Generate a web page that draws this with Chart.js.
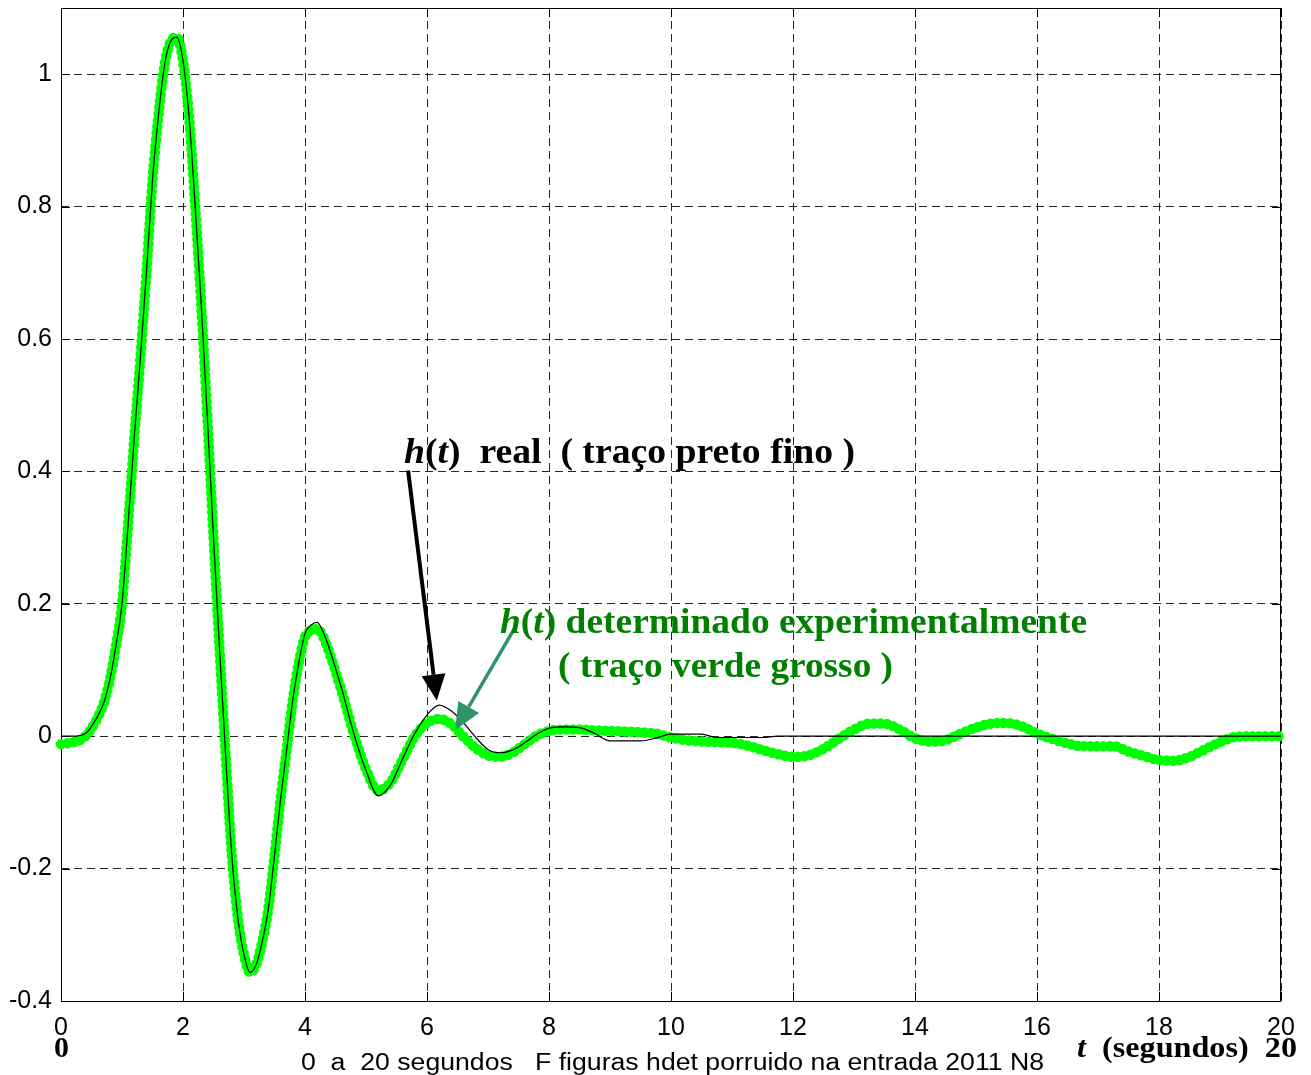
<!DOCTYPE html>
<html>
<head>
<meta charset="utf-8">
<script src="https://cdn.jsdelivr.net/npm/chart.js@4.4.1/dist/chart.umd.min.js"></script>
<style>
  html, body { margin: 0; padding: 0; background: #fff; }
  #wrap { width: 1311px; height: 1075px; }
</style>
</head>
<body>
<div id="wrap"><canvas id="hChart" width="1311" height="1075"></canvas></div>
<script>
// tempo em segundos (amostras)
const tempo = [
  0, 0.2, 0.4, 0.6,
  0.7, 0.8, 0.9, 1.0, 1.1, 1.2, 1.3, 1.4, 1.5, 1.6, 1.7, 1.8, 1.9, 2.0,
  2.1, 2.2, 2.3, 2.4, 2.5, 2.6, 2.7, 2.8, 2.9, 3.0, 3.1, 3.2, 3.3, 3.4, 3.5, 3.6, 3.7, 3.8, 3.9, 4.0,
  4.1, 4.2, 4.3, 4.4,
  4.6, 4.8, 5.0, 5.2, 5.4, 5.6, 5.8, 6.0, 6.2, 6.4, 6.6, 6.8, 7.0, 7.2, 7.4, 7.6, 7.8, 8.0,
  8.25, 8.5, 8.75, 9.0, 9.25, 9.5, 9.75, 10.0, 10.25, 10.5, 10.75, 11.0, 11.25, 11.5, 11.75,
  12.0, 12.25, 12.5, 12.75, 13.0, 13.25, 13.5, 13.75, 14.0, 14.25, 14.5, 14.75,
  15.0, 15.25, 15.5, 15.75, 16.0, 16.25, 16.5, 16.75, 17.0, 17.25, 17.5, 17.75,
  18.0, 18.25, 18.5, 18.75, 19.0, 19.25, 19.5, 19.75, 20.0
];

// h(t) real (traço preto fino)
const hReal = [
  0, 0, 0.004, 0.03,
  0.05, 0.085, 0.136, 0.20, 0.32, 0.45, 0.57, 0.70, 0.84, 0.94, 1.015, 1.05, 1.056, 1.02,
  0.935, 0.80, 0.65, 0.48, 0.30, 0.13, -0.03, -0.18, -0.275, -0.33, -0.357, -0.345, -0.31, -0.26, -0.18, -0.095, -0.02, 0.055, 0.112, 0.155,
  0.168, 0.172, 0.157, 0.132,
  0.072, 0.004, -0.052, -0.09, -0.074, -0.034, 0.004, 0.032, 0.047, 0.038, 0.02, -0.002, -0.02, -0.025, -0.021, -0.01, 0.003, 0.012,
  0.014, 0.013, 0.004, -0.007, -0.007, -0.007, -0.003, 0.003, 0.003, 0.003, -0.002, -0.002, -0.002, -0.002, 0,
  0, 0, 0, 0, 0, 0, 0, 0, 0, 0, 0, 0,
  0, 0, 0, 0, 0, 0, 0, 0, 0, 0, 0, 0,
  0, 0, 0, 0, 0, 0, 0, 0, 0
];

// h(t) determinado experimentalmente (traço verde grosso)
const hExp = [
  -0.012, -0.009, 0.0, 0.028,
  0.05, 0.085, 0.136, 0.20, 0.32, 0.45, 0.57, 0.70, 0.84, 0.94, 1.015, 1.05, 1.056, 1.02,
  0.935, 0.80, 0.65, 0.48, 0.30, 0.13, -0.03, -0.18, -0.275, -0.33, -0.357, -0.345, -0.31, -0.26, -0.18, -0.095, -0.02, 0.055, 0.112, 0.150,
  0.160, 0.162, 0.150, 0.126,
  0.068, 0.004, -0.05, -0.082, -0.07, -0.035, 0.0, 0.02, 0.026, 0.018, -0.001, -0.018, -0.029, -0.031, -0.025, -0.012, 0.001, 0.008,
  0.010, 0.010, 0.009, 0.008, 0.007, 0.006, 0.004, -0.002, -0.006, -0.008, -0.009, -0.010, -0.014, -0.021, -0.027,
  -0.031, -0.029, -0.019, -0.004, 0.010, 0.019, 0.019, 0.010, -0.003, -0.008, -0.006, 0.004,
  0.013, 0.019, 0.020, 0.015, 0.004, -0.004, -0.011, -0.015, -0.015, -0.015, -0.023, -0.030,
  -0.036, -0.037, -0.031, -0.020, -0.009, -0.001, 0, 0, 0
];

const xTicks = [0, 2, 4, 6, 8, 10, 12, 14, 16, 18, 20];
const yTicks = [-0.4, -0.2, 0, 0.2, 0.4, 0.6, 0.8, 1];

const SERIF = "'Liberation Serif', 'Times New Roman', serif";
const SANS = "'Liberation Sans', Arial, sans-serif";

// texto com partes em itálico, comprimido na horizontal até a largura pedida
function drawRich(ctx, pieces, x, y, size, width, color, family, bold) {
  const fontOf = p => `${p.i ? 'italic ' : ''}${bold ? 'bold ' : ''}${size}px ${family}`;
  let total = 0;
  pieces.forEach(p => { ctx.font = fontOf(p); total += ctx.measureText(p.t).width; });
  const sx = width ? width / total : 1;
  ctx.save();
  ctx.translate(x, y);
  ctx.scale(sx, 1);
  ctx.fillStyle = color;
  ctx.textBaseline = 'alphabetic';
  ctx.textAlign = 'left';
  let cx = 0;
  pieces.forEach(p => {
    ctx.font = fontOf(p);
    ctx.fillText(p.t, cx, 0);
    cx += ctx.measureText(p.t).width;
  });
  ctx.restore();
}

function drawArrow(ctx, x1, y1, x2, y2, color, lw, headLen, headW) {
  const ang = Math.atan2(y2 - y1, x2 - x1);
  const bx = x2 - headLen * Math.cos(ang), by = y2 - headLen * Math.sin(ang);
  ctx.save();
  ctx.strokeStyle = color; ctx.fillStyle = color; ctx.lineWidth = lw;
  ctx.beginPath(); ctx.moveTo(x1, y1); ctx.lineTo(bx, by); ctx.stroke();
  ctx.beginPath();
  ctx.moveTo(x2, y2);
  ctx.lineTo(bx + headW / 2 * Math.sin(ang), by - headW / 2 * Math.cos(ang));
  ctx.lineTo(bx - headW / 2 * Math.sin(ang), by + headW / 2 * Math.cos(ang));
  ctx.closePath(); ctx.fill();
  ctx.restore();
}

// moldura e marcas de escala para dentro (estilo MATLAB)
const frame = {
  id: 'frame',
  beforeDatasetsDraw(chart) {
    const { ctx, chartArea: a, scales: { x, y } } = chart;
    ctx.save();
    ctx.strokeStyle = '#000';
    ctx.lineWidth = 1;
    ctx.strokeRect(a.left + 0.5, a.top + 0.5, a.right - a.left - 1, a.bottom - a.top);
    ctx.beginPath();
    xTicks.forEach(v => {
      const px = Math.round(x.getPixelForValue(v)) + 0.5;
      ctx.moveTo(px, a.bottom); ctx.lineTo(px, a.bottom - 9);
      ctx.moveTo(px, a.top); ctx.lineTo(px, a.top + 9);
    });
    yTicks.forEach(v => {
      const py = Math.round(y.getPixelForValue(v)) + 0.5;
      ctx.moveTo(a.left, py); ctx.lineTo(a.left + 9, py);
      ctx.moveTo(a.right, py); ctx.lineTo(a.right - 9, py);
    });
    ctx.stroke();
    ctx.restore();
  }
};

const notes = {
  id: 'notes',
  afterDatasetsDraw(chart) {
    const { ctx, scales: { x, y } } = chart;
    const X = v => x.getPixelForValue(v), Y = v => y.getPixelForValue(v);

    drawArrow(ctx, X(5.69), Y(0.4015), X(6.16), Y(0.054), '#000', 4, 26, 24);
    drawArrow(ctx, X(7.43), Y(0.162), X(6.46), Y(0.009), '#2e9467', 3.5, 27, 24);

    drawRich(ctx, [{ t: 'h', i: true }, { t: '(' }, { t: 't', i: true }, { t: ')  real  ( traço preto fino )' }],
      X(5.623), Y(0.412), 36, X(13.016) - X(5.623), '#000', SERIF, true);
    drawRich(ctx, [{ t: 'h', i: true }, { t: '(' }, { t: 't', i: true }, { t: ') determinado experimentalmente' }],
      X(7.197), Y(0.1555), 35, X(16.82) - X(7.197), '#008000', SERIF, true);
    drawRich(ctx, [{ t: '( traço verde grosso )' }],
      X(8.148), Y(0.089), 35, X(13.64) - X(8.148), '#008000', SERIF, true);

    // textos abaixo do eixo
    drawRich(ctx, [{ t: '0' }], 54, 1057, 29, 15, '#000', SERIF, true);
    drawRich(ctx, [{ t: 't', i: true }, { t: '  (segundos)  20' }], 1077, 1057, 29, 220, '#000', SERIF, true);
    drawRich(ctx, [{ t: '0  a  20 segundos   F figuras hdet porruido na entrada 2011 N8' }],
      301, 1070, 23, 743, '#000', SANS, false);
  }
};

const ctx = document.getElementById('hChart').getContext('2d');
new Chart(ctx, {
  type: 'scatter',
  data: {
    datasets: [
      {
        label: 'h(t) real',
        data: tempo.map((t, i) => ({ x: t, y: hReal[i] })),
        showLine: true,
        borderColor: '#000',
        borderWidth: 1.2,
        pointRadius: 0,
        cubicInterpolationMode: 'monotone',
        order: 0,
        clip: 6
      },
      {
        label: 'h(t) experimental',
        data: tempo.map((t, i) => ({ x: t, y: hExp[i] })),
        showLine: true,
        borderColor: '#00ff00',
        borderWidth: 10.5,
        borderDash: [0, 6.5],
        borderCapStyle: 'round',
        borderJoinStyle: 'round',
        pointRadius: 0,
        cubicInterpolationMode: 'monotone',
        order: 1,
        clip: 8
      }
    ]
  },
  options: {
    responsive: false,
    animation: false,
    devicePixelRatio: 1,
    layout: { padding: { top: 8, right: 30, left: 0, bottom: 0 } },
    plugins: { legend: { display: false }, tooltip: { enabled: false } },
    scales: {
      x: {
        type: 'linear',
        min: 0, max: 20,
        afterBuildTicks: s => { s.ticks = xTicks.map(v => ({ value: v })); },
        afterFit: s => { s.height = 74; s.paddingLeft = 0; s.paddingRight = 0; },
        grid: { color: 'rgba(0,0,0,0.85)', lineWidth: 1, drawTicks: false },
        border: { display: false, dash: [8, 5] },
        ticks: {
          color: '#000', padding: 12, maxRotation: 0,
          font: { family: SANS, size: 25 },
          callback: v => String(v)
        }
      },
      y: {
        type: 'linear',
        min: -0.4, max: 1.1,
        afterBuildTicks: s => { s.ticks = yTicks.map(v => ({ value: v })); },
        afterFit: s => { s.width = 61; s.paddingTop = 0; s.paddingBottom = 0; },
        grid: { color: 'rgba(0,0,0,0.85)', lineWidth: 1, drawTicks: false },
        border: { display: false, dash: [8, 5] },
        ticks: {
          color: '#000', padding: 9,
          font: { family: SANS, size: 25 },
          callback: v => String(+v.toFixed(1))
        }
      }
    }
  },
  plugins: [frame, notes]
});
</script>
</body>
</html>
